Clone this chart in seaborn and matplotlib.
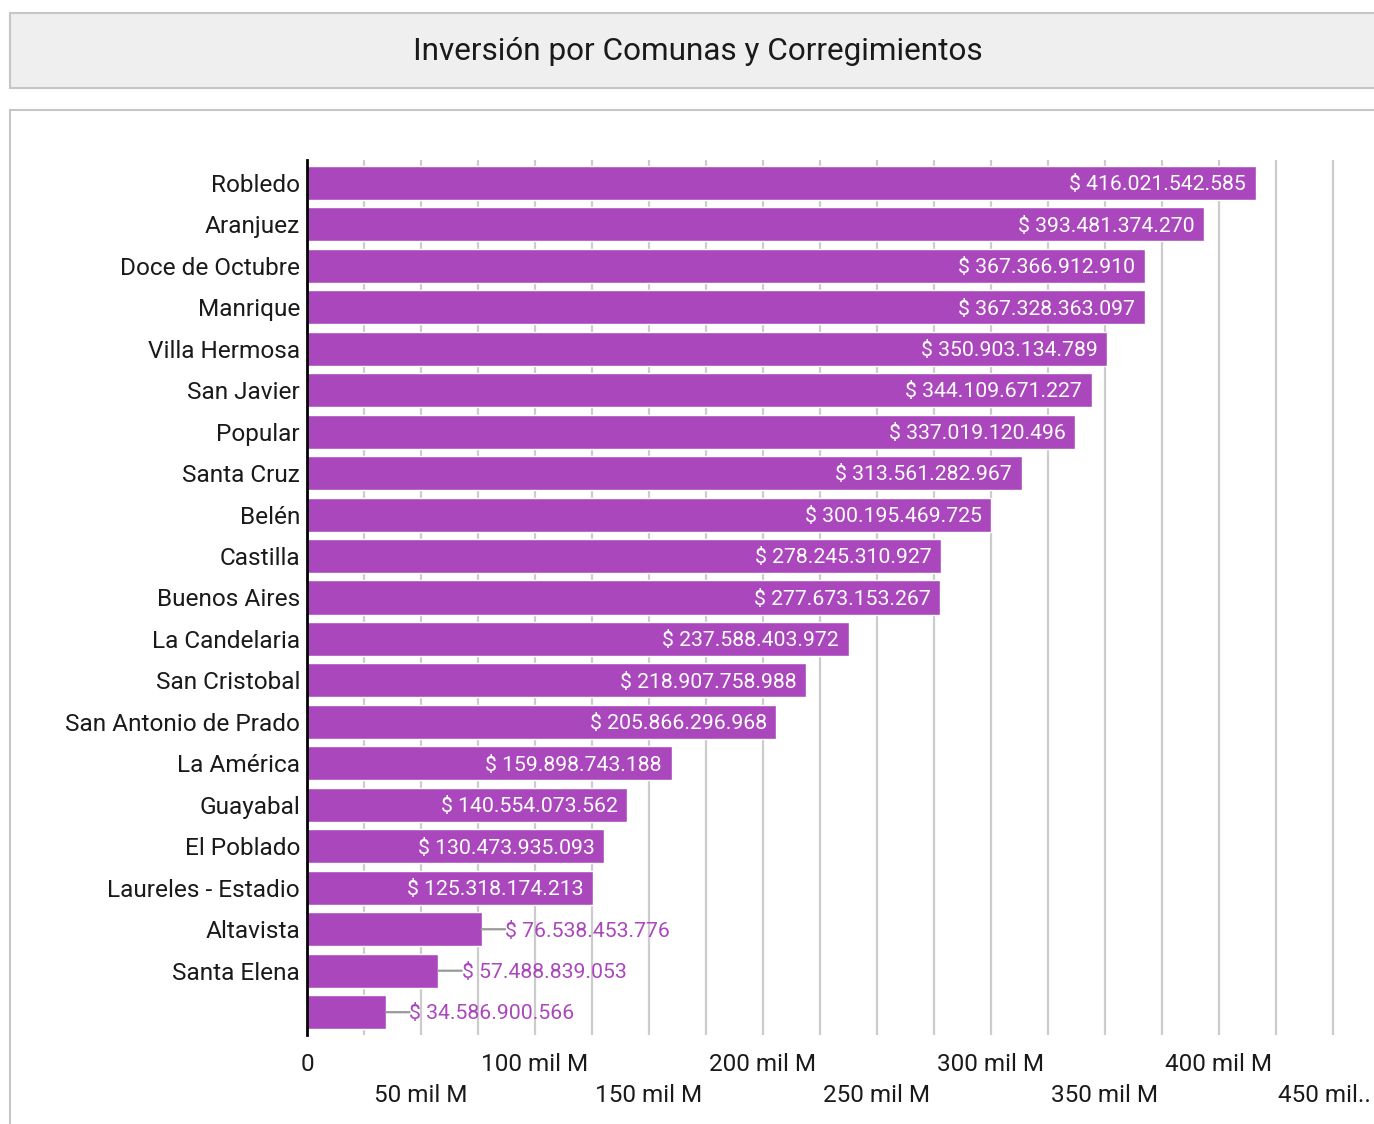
import matplotlib
matplotlib.use("Agg")
import matplotlib.pyplot as plt
from matplotlib.patches import Rectangle
import seaborn as sns
import pandas as pd

comunas = ["Robledo", "Aranjuez", "Doce de Octubre", "Manrique", "Villa Hermosa",
           "San Javier", "Popular", "Santa Cruz", "Belén", "Castilla", "Buenos Aires",
           "La Candelaria", "San Cristobal", "San Antonio de Prado", "La América",
           "Guayabal", "El Poblado", "Laureles - Estadio", "Altavista", "Santa Elena", ""]
inversion = [416021542585, 393481374270, 367366912910, 367328363097, 350903134789,
             344109671227, 337019120496, 313561282967, 300195469725, 278245310927,
             277673153267, 237588403972, 218907758988, 205866296968, 159898743188,
             140554073562, 130473935093, 125318174213, 76538453776, 57488839053,
             34586900566]
tick_values = [0, 50, 100, 150, 200, 250, 300, 350, 400, 450]
tick_labels = ["0", "\n50 mil M", "100 mil M", "\n150 mil M", "200 mil M",
               "\n250 mil M", "300 mil M", "\n350 mil M", "400 mil M", "\n450 mil.."]
title = "Inversión por Comunas y Corregimientos"

BAR = "#AB47BC"
sns.set_theme(style="white")
plt.rcParams["font.family"] = ["Roboto", "DejaVu Sans"]

df = pd.DataFrame({"comuna": comunas, "valor": [v / 1e9 for v in inversion]})

fig = plt.figure(figsize=(13.74, 11.24), dpi=100)
W, H = 1374, 1124

# title panel
fig.patches.append(Rectangle((10 / W, 1 - 88 / H), 1.2, 75 / H, transform=fig.transFigure,
                             facecolor="#EFEFEF", edgecolor="#C6C6C6", lw=1.5, zorder=-2))
fig.text(698 / W, 1 - 51 / H, title, ha="center", va="center", fontsize=22.7,
         color="#1a1a1a", zorder=3)
# chart panel
fig.patches.append(Rectangle((10 / W, -0.2), 1.2, 0.2 + 1 - 110 / H, transform=fig.transFigure,
                             facecolor="white", edgecolor="#C6C6C6", lw=1.5, zorder=-2))

ax = fig.add_axes([307 / W, 1 - 1035 / H, (W - 307) / W, (1035 - 160) / H])
ax.set_zorder(2)
ax.set_facecolor("none")
sns.barplot(data=df, x="valor", y="comuna", orient="h", color=BAR, saturation=1,
            width=0.82, ax=ax, zorder=3)
ax.set_xlim(0, (W - 307) / 2.28)
ax.set_ylim(len(comunas) - 0.45, -0.55)
ax.set_xticks(tick_values)
ax.set_xticks([25 + 50 * i for i in range(9)], minor=True)
# the last label sits at the right edge, drawn separately so it stays inside
ax.set_xticklabels(tick_labels[:-1] + [""])
PAD = 13
for t in ax.get_xticklabels():
    t.set_linespacing(1.42)
    t.set_va("top")
ax.tick_params(axis="x", which="both", length=0, pad=PAD, labelsize=17.5, labelcolor="#1a1a1a")
ax.tick_params(axis="y", length=0, pad=5, labelsize=17.6, labelcolor="#1a1a1a")
ax.annotate(tick_labels[-1], (1, 0), xycoords="axes fraction", xytext=(-2, -PAD),
            textcoords="offset points", ha="right", va="top", fontsize=17.5,
            linespacing=1.42, color="#1a1a1a", annotation_clip=False)
ax.grid(axis="x", which="both", color="#CCCCCC", lw=1.6, zorder=0)
ax.set_axisbelow(True)
ax.set_xlabel("")
ax.set_ylabel("")
for s in ["top", "right", "bottom"]:
    ax.spines[s].set_visible(False)
ax.spines["left"].set_color("black")
ax.spines["left"].set_linewidth(2)
ax.spines["left"].set_zorder(5)

for i, v in enumerate(inversion):
    x = v / 1e9
    txt = "$ " + f"{v:,}".replace(",", ".")
    if x > 100:
        ax.annotate(txt, (x, i), xytext=(-7, -1.3), textcoords="offset points",
                    ha="right", va="center", color="white", fontsize=15.3, zorder=6)
    else:
        ax.annotate("", (x, i), xytext=(17, 0), textcoords="offset points",
                    arrowprops=dict(arrowstyle="-", color="#999999", lw=1.6,
                                    shrinkA=0, shrinkB=0), zorder=6)
        ax.annotate(txt, (x, i), xytext=(17, -1.3), textcoords="offset points",
                    ha="left", va="center", color=BAR, fontsize=15.3, zorder=6)

fig.savefig("out.png", dpi=100)
